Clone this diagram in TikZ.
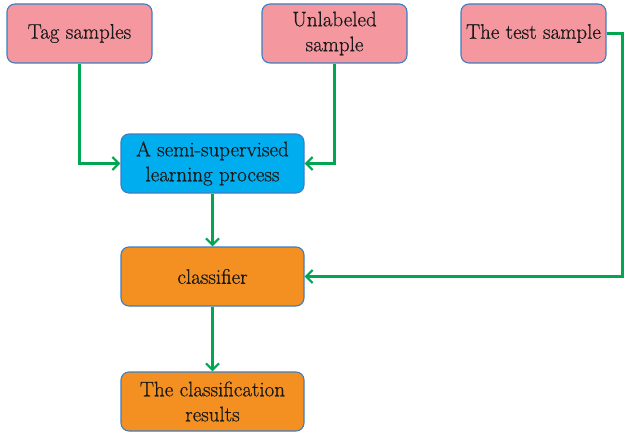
\documentclass[tikz,border=0pt]{standalone}
\usepackage{fontspec}
\setmainfont{Latin Modern Roman}[FakeBold=0.6]
\usetikzlibrary{arrows.meta}
\definecolor{pinkf}{HTML}{F4979F}
\definecolor{bluef}{HTML}{00AEEF}
\definecolor{orangef}{HTML}{F39021}
\definecolor{edgeb}{HTML}{3D7EC2}
\definecolor{arrg}{HTML}{00A650}
\tikzset{
  box/.style={draw=edgeb, line width=1.1pt, rounded corners=8pt, minimum width=145pt, minimum height=59pt, align=center, font=\rmfamily\fontsize{21}{25}\selectfont, text=black!90, inner sep=0pt},
  bigbox/.style={box, minimum width=183pt},
  conn/.style={draw=arrg, line width=2.3pt, -{Straight Barb[length=6.5pt,width=13pt,line width=2.2pt]}}
}
\begin{document}
\begin{tikzpicture}[x=1pt,y=-1pt]
\useasboundingbox (0,0) rectangle (624,436);
\node[box, fill=pinkf] (tag) at (79.5,33.5) {Tag samples};
\node[box, fill=pinkf] (unl) at (334.5,33.5) {Unlabeled\\sample};
\node[box, fill=pinkf] (test) at (533.5,33.5) {The test sample};
\node[bigbox, fill=bluef] (semi) at (212.5,163.5) {A semi-supervised\\learning process};
\node[bigbox, fill=orangef] (cls) at (212.5,276.5) {classifier};
\node[bigbox, fill=orangef] (res) at (212.5,401.5) {The classification\\results};
\coordinate (c1) at (622.5,33.5);
\coordinate (c2) at (622.5,276.5);
\draw[conn] (tag.south) |- (semi.west);
\draw[conn] (unl.south) |- (semi.east);
\draw[conn] (test.east) -- (c1) -- (c2) -- (cls.east);
\draw[conn] (semi.south) -- (cls.north);
\draw[conn] (cls.south) -- (res.north);
\end{tikzpicture}
\end{document}
